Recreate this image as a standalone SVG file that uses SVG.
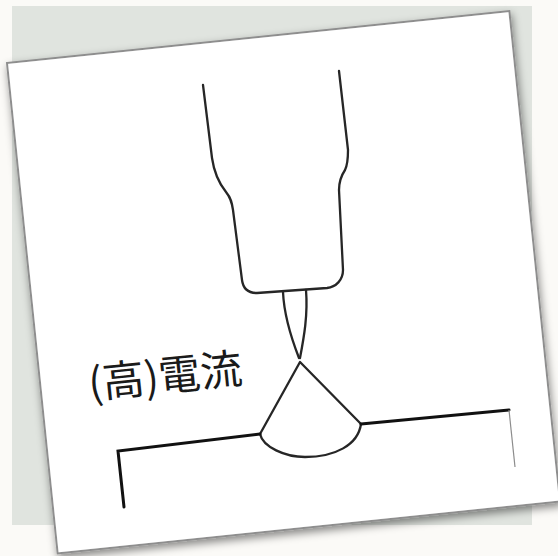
<svg xmlns="http://www.w3.org/2000/svg" width="558" height="556" viewBox="0 0 558 556">
  <defs>
    <filter id="cardShadow" x="-10%" y="-10%" width="120%" height="125%">
      <feDropShadow dx="1" dy="4" stdDeviation="4" flood-color="#000" flood-opacity="0.45"/>
    </filter>
    <style>
      .torch { fill: none; stroke: #262626; stroke-width: 2.3; stroke-linecap: round; stroke-linejoin: round; }
      .plate { fill: none; stroke: #111; stroke-width: 3; stroke-linecap: round; stroke-linejoin: miter; }
      .edge  { fill: none; stroke: #8c8c8c; stroke-width: 1.2; }
      .label { font-family: "Noto Sans CJK JP", "Noto Sans CJK SC", sans-serif; font-size: 42px; font-weight: 400; fill: #1a1a1a; }
    </style>
  </defs>

  <!-- page background and backing panel -->
  <rect x="0" y="0" width="558" height="556" fill="#fbfaf7"/>
  <rect x="12" y="6" width="520" height="519" fill="#e0e4df"/>

  <!-- tilted card -->
  <g id="card" transform="translate(7,63) rotate(-5.9)">
    <rect x="0" y="0" width="505" height="493" fill="#ffffff" stroke="#8e8e8e" stroke-width="2" filter="url(#cardShadow)"/>
  </g>

  <!-- welding torch body -->
  <g id="torch">
    <path class="torch" d="M203,85 L212,158 C214,172 218,182 226,192 C231,198 232,203 233,210 L242,280 C243,288 248,293 257,293 L327,288 C336,287 343,280 343,270 L339,190 C339,182 341,176 345,170 C348,164 348,158 348,150 L339,71"/>
  </g>

  <!-- electrode wire -->
  <g id="wire">
    <path class="torch" d="M283,292 C284,315 292,340 299,358"/>
    <path class="torch" d="M306,290 C308,315 304,337 300,358"/>
  </g>

  <!-- arc cone and weld bead -->
  <g id="arc">
    <path class="torch" d="M260,434 L300,362 L361,424"/>
    <path class="torch" d="M260,434 C263,447 285,457 305,457 C335,457 358,445 361,424"/>
  </g>

  <!-- base metal -->
  <g id="base">
    <path class="plate" d="M124,507 L118,451 L260,434"/>
    <path class="plate" d="M361,424 L509,410"/>
    <path class="edge" d="M509,410 L515,467"/>
  </g>

  <!-- current label -->
  <g id="label">
    <text class="label" x="90" y="399" transform="rotate(-5.9 90 399)">(高)電流</text>
  </g>
</svg>
